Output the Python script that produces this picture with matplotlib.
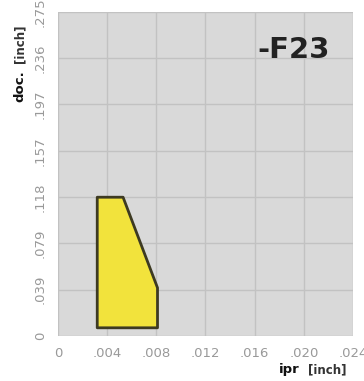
import matplotlib
matplotlib.use('Agg')
import matplotlib.pyplot as plt
from matplotlib.patches import Polygon

# chart data (inch)
x_ticks = [0, 0.004, 0.008, 0.012, 0.016, 0.020, 0.024]
x_labels = ['0', '.004', '.008', '.012', '.016', '.020', '.024']
y_ticks = [0, 0.03937, 0.07874, 0.11811, 0.15748, 0.19685, 0.23622, 0.27559]
y_labels = ['0', '.039', '.079', '.118', '.157', '.197', '.236', '.275']

# chipbreaker area outline
area_ipr = [0.0032, 0.0032, 0.0053, 0.0081, 0.0081]
area_doc = [0.007, 0.118, 0.118, 0.041, 0.007]

fig = plt.figure(figsize=(3.64, 3.81), dpi=100)
ax = fig.add_axes([0.159, 0.118, 0.811, 0.851])
ax.set_facecolor('#d9d9d9')

ax.set_xlim(x_ticks[0], x_ticks[-1])
ax.set_ylim(y_ticks[0], y_ticks[-1])
ax.set_xticks(x_ticks)
ax.set_xticklabels(x_labels)
ax.set_yticks(y_ticks)
ax.set_yticklabels(y_labels, rotation=90, va='center')
ax.tick_params(length=0, colors='#999999', labelsize=9.5, pad=8)
ax.grid(True, color='#c2c2c2', linewidth=1)
ax.set_axisbelow(True)
for s in ax.spines.values():
    s.set_visible(False)

pts = list(zip(area_ipr, area_doc))
ax.add_patch(Polygon(pts, closed=True, facecolor='#f2e33c', edgecolor='#3d3a22',
                     linewidth=2, joinstyle='round', zorder=3))

ax.text(0.92, 0.883, '-F23', transform=ax.transAxes, ha='right', va='center',
        fontsize=21, fontweight='bold', color='#222222')

fig.text(0.055, 0.774, 'doc.', rotation=90, ha='center', va='center',
         fontsize=9.5, fontweight='bold', color='#111111')
fig.text(0.055, 0.884, '[inch]', rotation=90, ha='center', va='center',
         fontsize=8.5, fontweight='bold', color='#333333')
fig.text(0.795, 0.03, 'ipr', ha='center', va='center',
         fontsize=9.5, fontweight='bold', color='#111111')
fig.text(0.9, 0.03, '[inch]', ha='center', va='center',
         fontsize=8.5, fontweight='bold', color='#333333')

fig.savefig('out.png', dpi=100)
